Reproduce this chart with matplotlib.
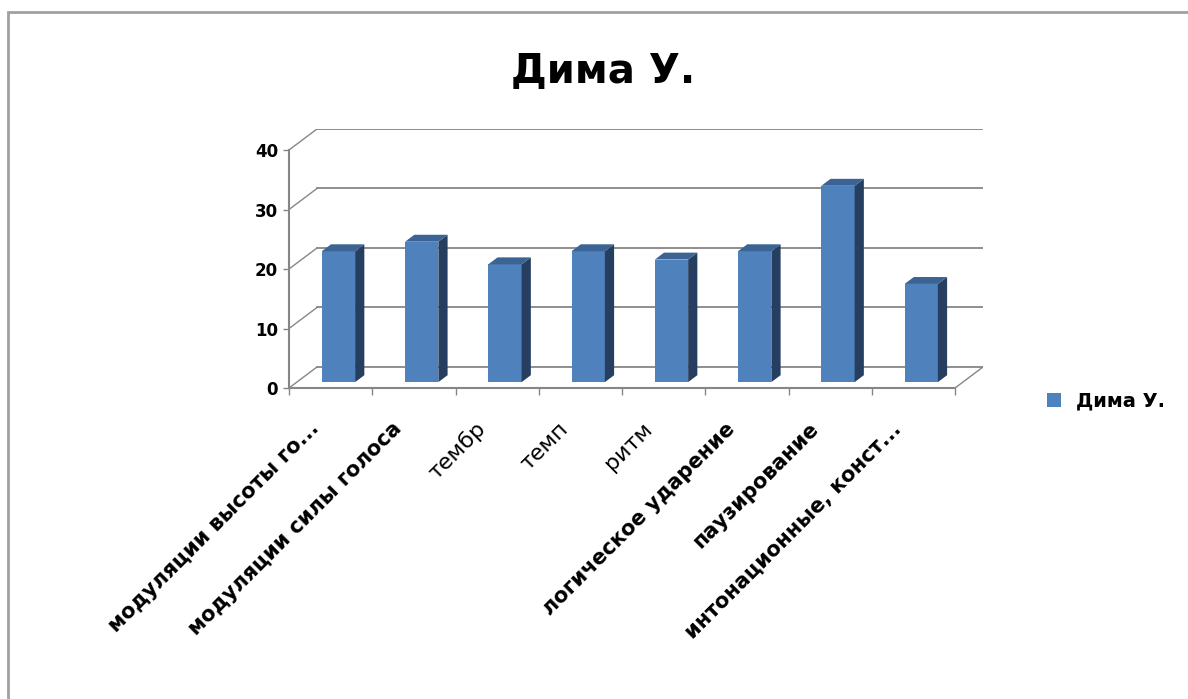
import numpy as np
import matplotlib
matplotlib.use('Agg')
import matplotlib.pyplot as plt
from matplotlib.patches import Polygon, Rectangle
from matplotlib.transforms import ScaledTranslation

# data
categories = ['модуляции высоты го...', 'модуляции силы голоса', 'тембр', 'темп',
              'ритм', 'логическое ударение', 'паузирование', 'интонационные, конст...']
values = [22, 23.6, 19.8, 22, 20.6, 22, 33, 16.5]
series_name = 'Дима У.'
title = 'Дима У.'
y_ticks = [0, 10, 20, 30, 40]

# fake 3d look: depth offset of the back wall (data units) and bar depth slice
DX, DY = 0.336, 3.53
F0, F1 = 0.28, 0.61
W = 0.40
grid_c = '#868686'
c_front, c_side, c_top = '#4F81BD', '#263F61', '#3B6393'
# the Excel picture renders these three labels in regular weight
label_weights = ['bold', 'bold', 'normal', 'normal', 'normal', 'bold', 'bold', 'bold']

fig = plt.figure(figsize=(11.88, 6.99), dpi=100)
ax = fig.add_axes([289 / 1188, 311 / 699, 694 / 1188, 259 / 699])
ax.set_xlim(-0.5, len(values) - 0.5 + DX)
ax.set_ylim(0, y_ticks[-1] + DY)

# back wall gridlines + side wall diagonals
xl, xr = -0.5, len(values) - 0.5
for v in y_ticks:
    ax.plot([xl + DX, xr + DX], [v + DY, v + DY], color=grid_c, lw=1.3, zorder=1)
    ax.plot([xl, xl + DX], [v, v + DY], color=grid_c, lw=1.0, zorder=1)
ax.plot([xr, xr + DX], [0, DY], color=grid_c, lw=1.0, zorder=1)

# bars: front faces through ax.bar, sides and tops as polygons
x = np.arange(len(values))
front = ax.bar(x + F0 * DX, values, W, bottom=F0 * DY, color=c_front,
               edgecolor='none', zorder=3, label=series_name)
for xi, v in zip(x, values):
    x0 = xi - W / 2
    x1 = xi + W / 2
    side = [(x1 + F0 * DX, F0 * DY), (x1 + F1 * DX, F1 * DY),
            (x1 + F1 * DX, v + F1 * DY), (x1 + F0 * DX, v + F0 * DY)]
    top = [(x0 + F0 * DX, v + F0 * DY), (x1 + F0 * DX, v + F0 * DY),
           (x1 + F1 * DX, v + F1 * DY), (x0 + F1 * DX, v + F1 * DY)]
    ax.add_patch(Polygon(side, closed=True, fc=c_side, ec='none', zorder=3))
    ax.add_patch(Polygon(top, closed=True, fc=c_top, ec='none', zorder=3))

# axes
for s in ['top', 'right']:
    ax.spines[s].set_visible(False)
ax.spines['left'].set_bounds(0, y_ticks[-1])
ax.spines['bottom'].set_bounds(xl, xr)
for s in ['left', 'bottom']:
    ax.spines[s].set_color(grid_c)
    ax.spines[s].set_linewidth(1.5)
    ax.spines[s].set_zorder(4)

ax.set_yticks(y_ticks)
ax.set_yticklabels([str(t) for t in y_ticks], fontsize=12, fontweight='bold')
ax.tick_params(axis='y', direction='out', length=4, width=1, color=grid_c, pad=4)

ax.set_xticks(np.arange(xl, xr + 0.5, 1))
ax.set_xticklabels([])
ax.tick_params(axis='x', which='major', direction='out', length=5, width=1, color=grid_c)
ax.set_xticks(x, minor=True)
ax.set_xticklabels(categories, minor=True, rotation=45, ha='right', va='center',
                   rotation_mode='anchor')
ax.tick_params(axis='x', which='minor', length=0, pad=27)
shift = ScaledTranslation(-15 / 100, 0, fig.dpi_scale_trans)
for lab, wt in zip(ax.get_xticklabels(minor=True), label_weights):
    lab.set_fontsize(15 if wt == 'bold' else 16)
    lab.set_fontweight(wt)
    lab.set_transform(lab.get_transform() + shift)

fig.text(603 / 1188, 1 - 72 / 699, title, ha='center', va='center',
         fontsize=29, fontweight='bold')

fig.legend(handles=[front], labels=[series_name], loc='center left',
           bbox_to_anchor=(1047 / 1188, 1 - 401 / 699), frameon=False,
           prop={'weight': 'bold', 'size': 14}, handlelength=0.7, handleheight=0.7,
           handletextpad=0.8, borderpad=0, borderaxespad=0)

# chart area border (runs off the right and bottom edge in the reference)
fig.add_artist(Rectangle((8 / 1188, -0.1), 1.2, 1.1 - 12 / 699, transform=fig.transFigure,
                         fill=False, ec='#A0A0A0', lw=2))

fig.savefig('out.png', dpi=100)
